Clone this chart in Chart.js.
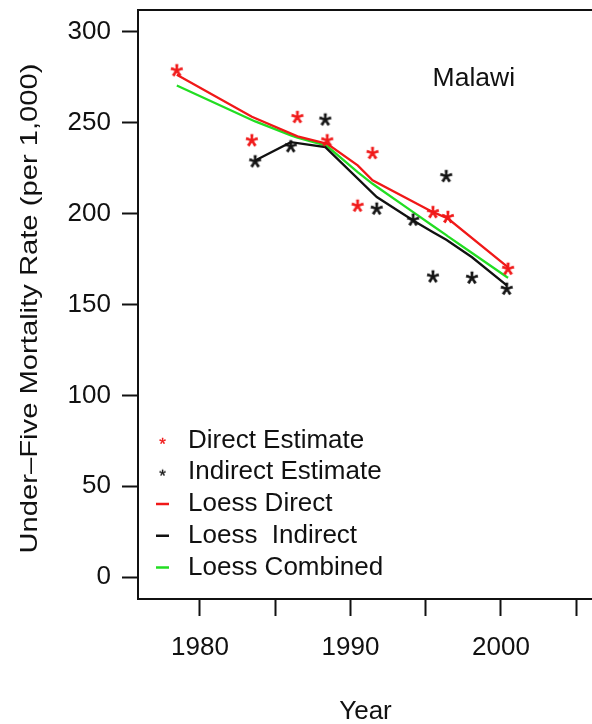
<!DOCTYPE html>
<html>
<head>
<meta charset="utf-8">
<script src="https://cdn.jsdelivr.net/npm/chart.js@4.4.1/dist/chart.umd.min.js"></script>
<style>
  html, body { margin: 0; padding: 0; background: #fff; overflow: hidden; }
  #wrap { width: 600px; height: 724px; }
</style>
</head>
<body>
<div id="wrap"><canvas id="c" width="600" height="724"></canvas></div>
<script>
// Under-five mortality, Malawi: survey estimates and loess fits
const countryName = 'Malawi';
const xTitle = 'Year';
const yTitle = 'Under\u2013Five Mortality Rate (per 1,000)';

const directYears = [1978.46, 1983.45, 1986.48, 1988.46, 1990.48, 1991.47, 1995.49, 1996.48, 2000.48];
const directRates = [278.8, 240.3, 253.1, 240.3, 204.3, 233.3, 200.8, 198.1, 169.6];

const indirectYears = [1983.67, 1986.04, 1988.33, 1991.75, 1994.17, 1995.49, 1996.37, 1998.08, 2000.39];
const indirectRates = [228.7, 237.0, 251.7, 202.7, 196.6, 165.4, 220.6, 164.7, 158.6];

const loessDirect   = [276.4, 253.3, 242.5, 238.4, 226.5, 218.3, 200.8, 197.3, 170.4];
const loessIndirect = [229.2, 239.3, 236.6, 209.1, 196.2, 189.8, 185.6, 176.0, 160.5];

const combinedYears = [1978.46, 1983.45, 1983.67, 1986.04, 1986.48, 1988.33, 1988.46, 1990.48, 1991.47,
                       1991.75, 1994.17, 1995.49, 1996.37, 1996.48, 1998.08, 2000.39, 2000.48];
const loessCombined = [270.5, 251.5, 250.7, 243.0, 241.8, 237.5, 237.0, 222.8, 216.4,
                       214.8, 200.8, 193.2, 188.2, 187.5, 178.3, 165.1, 164.7];

const xTicks = [1980, 1985, 1990, 1995, 2000, 2005];
const xTickLabels = ['1980', '', '1990', '', '2000', ''];
const yTicks = [0, 50, 100, 150, 200, 250, 300];

const FONT = '"Liberation Sans", Arial, Helvetica, sans-serif';
const FS = 26;
const INK = '#111111';
const RED = '#f01818';
const GREEN = '#22dd22';
const BLACK = '#111111';

const pairs = (xs, ys) => xs.map((x, i) => ({ x, y: ys[i] }));

// asterisk glyph rendered to a small canvas, used as a point marker
function asterisk(color, size) {
  const s = Math.ceil(size * 0.6) + 4;
  const c = document.createElement('canvas');
  c.width = s; c.height = s;
  const g = c.getContext('2d');
  g.font = size + 'px ' + FONT;
  g.fillStyle = color;
  g.strokeStyle = color;
  g.lineWidth = size * 0.02;
  g.textAlign = 'center';
  g.textBaseline = 'alphabetic';
  const m = g.measureText('*');
  const y = s / 2 + (m.actualBoundingBoxAscent - m.actualBoundingBoxDescent) / 2;
  g.fillText('*', s / 2, y);
  g.strokeText('*', s / 2, y);
  return c;
}

const datasets = [
  { label: 'Direct Estimate', data: pairs(directYears, directRates), showLine: false,
    pointStyle: asterisk(RED, 33), pointRadius: 6, color: RED, kind: 'point', order: 1 },
  { label: 'Indirect Estimate', data: pairs(indirectYears, indirectRates), showLine: false,
    pointStyle: asterisk(BLACK, 33), pointRadius: 6, color: BLACK, kind: 'point', order: 1 },
  { label: 'Loess Direct', data: pairs(directYears, loessDirect), showLine: true,
    borderColor: RED, borderWidth: 2.3, pointRadius: 0, color: RED, kind: 'line', order: 2 },
  { label: 'Loess  Indirect', data: pairs(indirectYears, loessIndirect), showLine: true,
    borderColor: BLACK, borderWidth: 2.3, pointRadius: 0, color: BLACK, kind: 'line', order: 2 },
  { label: 'Loess Combined', data: pairs(combinedYears, loessCombined), showLine: true,
    borderColor: GREEN, borderWidth: 2.3, pointRadius: 0, color: GREEN, kind: 'line', order: 2 }
];

// frame around the plotting region
const framePlugin = {
  id: 'frame',
  afterDraw(chart) {
    const { ctx, chartArea: a } = chart;
    ctx.save();
    ctx.strokeStyle = INK;
    ctx.lineWidth = 2;
    ctx.strokeRect(a.left, a.top, a.right - a.left, a.bottom - a.top);
    ctx.restore();
  }
};

// rotated y-axis title, stretched along its baseline
const yTitlePlugin = {
  id: 'yTitle',
  afterDraw(chart) {
    const { ctx, chartArea: a } = chart;
    ctx.save();
    ctx.font = '24.5px ' + FONT;
    ctx.fillStyle = INK;
    ctx.textAlign = 'center';
    ctx.textBaseline = 'middle';
    const w = ctx.measureText(yTitle).width;
    const sx = 490 / w;
    ctx.translate(30, (a.top + a.bottom) / 2 + 4);
    ctx.rotate(-Math.PI / 2);
    ctx.scale(sx, 1);
    ctx.fillText(yTitle, 0, 0);
    ctx.restore();
  }
};

// country name placed in data coordinates
const labelPlugin = {
  id: 'countryLabel',
  afterDatasetsDraw(chart) {
    const { ctx, scales } = chart;
    ctx.save();
    ctx.font = (FS + 0.5) + 'px ' + FONT;
    ctx.fillStyle = INK;
    ctx.textAlign = 'center';
    ctx.textBaseline = 'middle';
    ctx.fillText(countryName, scales.x.getPixelForValue(1998.2), scales.y.getPixelForValue(274.4));
    ctx.restore();
  }
};

// legend in the lower-left corner of the plot
const legendPlugin = {
  id: 'insetLegend',
  afterDatasetsDraw(chart) {
    const { ctx, chartArea: a } = chart;
    const ds = chart.data.datasets;
    const step = 31.75;
    const lastY = a.bottom - 31.5;
    ctx.save();
    ctx.font = FS + 'px ' + FONT;
    ctx.textBaseline = 'middle';
    ctx.textAlign = 'left';
    ds.forEach((d, i) => {
      const y = lastY - (ds.length - 1 - i) * step;
      const sx = a.left + 24.5;
      if (d.kind === 'point') {
        const img = asterisk(d.color, 17);
        ctx.drawImage(img, sx - img.width / 2, y - img.height / 2);
      } else {
        ctx.strokeStyle = d.color;
        ctx.lineWidth = 2.5;
        ctx.beginPath();
        ctx.moveTo(sx - 6.5, y);
        ctx.lineTo(sx + 6.5, y);
        ctx.stroke();
      }
      ctx.fillStyle = INK;
      ctx.fillText(d.label, a.left + 50, y);
    });
    ctx.restore();
  }
};

const tickFont = { family: FONT, size: FS };

new Chart(document.getElementById('c'), {
  type: 'scatter',
  data: { datasets },
  options: {
    responsive: false,
    animation: false,
    layout: { padding: { top: 10, right: 2, bottom: 0, left: 0 } },
    plugins: { legend: { display: false }, tooltip: { enabled: false } },
    elements: { line: { tension: 0 } },
    scales: {
      x: {
        type: 'linear', min: 1975.88, max: 2006.12,
        afterBuildTicks: s => { s.ticks = xTicks.map(v => ({ value: v })); },
        afterFit: s => { s.height = 125; s.paddingLeft = 0; s.paddingRight = 0; },
        ticks: {
          autoSkip: false, maxRotation: 0, padding: 16, color: INK, font: tickFont,
          callback: v => { const i = xTicks.indexOf(v); return i >= 0 ? xTickLabels[i] : ''; }
        },
        grid: { drawOnChartArea: false, drawTicks: true, tickLength: 17, tickColor: INK, tickWidth: 2 },
        border: { display: false },
        title: { display: true, text: xTitle, color: INK, padding: 0,
                 font: { family: FONT, size: FS, lineHeight: 0.95 } }
      },
      y: {
        type: 'linear', min: -12, max: 312,
        afterBuildTicks: s => { s.ticks = yTicks.map(v => ({ value: v })); },
        afterFit: s => { s.width = 138; s.paddingTop = 0; s.paddingBottom = 0; },
        ticks: { autoSkip: false, padding: 11, color: INK, font: tickFont, callback: v => String(v) },
        grid: { drawOnChartArea: false, drawTicks: true, tickLength: 16, tickColor: INK, tickWidth: 2 },
        border: { display: false },
        title: { display: false }
      }
    }
  },
  plugins: [framePlugin, yTitlePlugin, labelPlugin, legendPlugin]
});
</script>
</body>
</html>
